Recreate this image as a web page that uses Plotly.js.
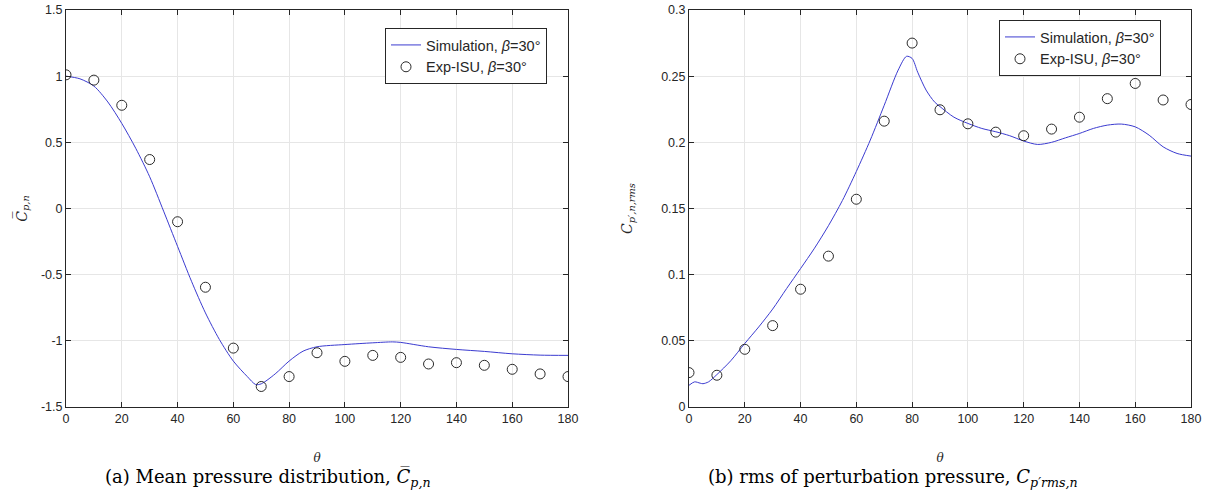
<!DOCTYPE html>
<html><head><meta charset="utf-8">
<script src="https://cdn.plot.ly/plotly-3.0.1.min.js"></script>
<style>html,body{margin:0;padding:0;background:#fff}#c{width:1218px;height:500px}</style>
</head><body><div id="c"></div>
<script>
// ---- data ----
const thetaExp = [0,10,20,30,40,50,60,70,80,90,100,110,120,130,140,150,160,170,180];
const cpMeanExp = [1.01,0.97,0.78,0.37,-0.10,-0.595,-1.055,-1.345,-1.27,-1.09,-1.155,-1.11,-1.125,-1.175,-1.165,-1.185,-1.215,-1.25,-1.27];
const thetaSimA = [0,5,10,15,20,25,30,35,40,45,50,55,60,65,68,70,75,80,85,90,100,110,117,120,130,140,150,160,170,180];
const cpMeanSim = [1.0,0.98,0.925,0.805,0.643,0.455,0.24,-0.02,-0.286,-0.55,-0.789,-0.99,-1.153,-1.27,-1.33,-1.325,-1.25,-1.153,-1.078,-1.045,-1.028,-1.015,-1.008,-1.012,-1.045,-1.065,-1.08,-1.098,-1.108,-1.11];
const cpRmsExp = [0.026,0.024,0.0436,0.0615,0.089,0.114,0.157,0.216,0.275,0.2246,0.214,0.2077,0.205,0.210,0.219,0.233,0.2445,0.232,0.2286];
const thetaSimB = [0,2,4,5,7,10,15,20,25,30,35,40,45,50,55,60,65,70,75,78,80,82,85,88,90,95,100,105,110,115,120,125,130,135,140,145,150,155,160,165,170,175,180];
const cpRmsSim = [0.0164,0.019,0.018,0.0176,0.019,0.0245,0.035,0.048,0.0605,0.074,0.0895,0.1046,0.120,0.137,0.156,0.178,0.2017,0.228,0.2546,0.265,0.2634,0.253,0.2395,0.2306,0.227,0.219,0.2143,0.2105,0.208,0.205,0.201,0.1984,0.200,0.2034,0.2067,0.2105,0.213,0.2138,0.2117,0.2054,0.1966,0.1916,0.1896];
const xTicks = [0,20,40,60,80,100,120,140,160,180];
const yTicksA = [-1.5,-1,-0.5,0,0.5,1,1.5];
const yTickTextA = ['-1.5','-1','-0.5','0','0.5','1','1.5'];
const yTicksB = [0,0.05,0.1,0.15,0.2,0.25,0.3];
const yTickTextB = ['0','0.05','0.1','0.15','0.2','0.25','0.3'];
const simName = 'Simulation, <i>β</i>=30°';
const expName = 'Exp-ISU, <i>β</i>=30°';
const captionA = '(a) Mean pressure distribution, <i>C\u0305</i><sub><i>p,n</i></sub>';
const captionB = '(b) rms of perturbation pressure, <i>C</i><sub><i>p′rms,n</i></sub>';

// ---- styles ----
const ink = '#262626';
const gridC = '#e6e6e6';
const lineC = '#3b3bd0';
const tickFont = {family:'Liberation Sans, Arial, sans-serif', size:12.5, color:ink};
const serif = 'DejaVu Serif, Liberation Serif, serif';

function xaxis(domain, anchor){
  return {domain, anchor, range:[0,180], tickvals:xTicks, ticks:'inside', ticklen:5, tickcolor:ink,
    showline:true, linecolor:ink, linewidth:1, mirror:'ticks', showgrid:true, gridcolor:gridC,
    zeroline:false, tickfont:tickFont,
    title:{text:'<i>θ</i>', font:{family:serif, size:12, color:ink}, standoff:28}};
}
function yaxis(domain, anchor, range, vals, text, title, standoff){
  return {domain, anchor, range, tickvals:vals, ticktext:text, ticks:'inside', ticklen:5, tickcolor:ink,
    showline:true, linecolor:ink, linewidth:1, mirror:'ticks', showgrid:true, gridcolor:gridC,
    zeroline:false, tickfont:tickFont,
    title:{text:title, font:{family:serif, size:14, color:ink}, standoff}};
}
const marker = {symbol:'circle-open', size:10, color:'#2a2a2a', line:{width:1, color:'#2a2a2a'}};

const traces = [
  {x:thetaSimA, y:cpMeanSim, type:'scatter', mode:'lines', line:{color:lineC, width:1, shape:'spline', smoothing:0.8}, name:simName, xaxis:'x', yaxis:'y', legend:'legend'},
  {x:thetaExp, y:cpMeanExp, type:'scatter', mode:'markers', marker, name:expName, xaxis:'x', yaxis:'y', legend:'legend'},
  {x:thetaSimB, y:cpRmsSim, type:'scatter', mode:'lines', line:{color:lineC, width:1, shape:'spline', smoothing:0.8}, name:simName, xaxis:'x2', yaxis:'y2', legend:'legend2'},
  {x:thetaExp, y:cpRmsExp, type:'scatter', mode:'markers', marker, name:expName, xaxis:'x2', yaxis:'y2', legend:'legend2'}
];

const legendBase = {bgcolor:'#fff', bordercolor:ink, borderwidth:1, font:{family:'Liberation Sans, Arial, sans-serif', size:14.5, color:ink},
  xanchor:'right', yanchor:'top', tracegroupgap:0, itemwidth:30};

const W=1218, H=500;
const layout = {
  width:W, height:H, margin:{l:0,r:0,t:0,b:0}, paper_bgcolor:'#fff', plot_bgcolor:'#fff',
  showlegend:true,
  xaxis: xaxis([66/W, 568/W], 'y'),
  yaxis: yaxis([1-407/H, 1-10/H], 'x', [-1.5,1.5], yTicksA, yTickTextA, '<i>C\u0305</i><sub><i>p,n</i></sub>', 10),
  xaxis2: xaxis([689/W, 1191/W], 'y2'),
  yaxis2: yaxis([1-407/H, 1-10/H], 'x2', [0,0.3], yTicksB, yTickTextB, '<i>C</i><sub><i>p′,n,rms</i></sub>', 25),
  legend: Object.assign({}, legendBase, {x:547/W, y:1-28/H, xref:'paper', yref:'paper'}),
  legend2: Object.assign({}, legendBase, {x:1161/W, y:1-20/H, xref:'paper', yref:'paper'}),
  annotations:[
    {text:captionA, xref:'paper', yref:'paper', x:268/W, y:1-478/H, showarrow:false, xanchor:'center', yanchor:'middle', font:{family:serif, size:18, color:'#000'}},
    {text:captionB, xref:'paper', yref:'paper', x:893/W, y:1-478/H, showarrow:false, xanchor:'center', yanchor:'middle', font:{family:serif, size:18, color:'#000'}}
  ]
};
Plotly.newPlot('c', traces, layout, {displayModeBar:false, staticPlot:true});
</script></body></html>
